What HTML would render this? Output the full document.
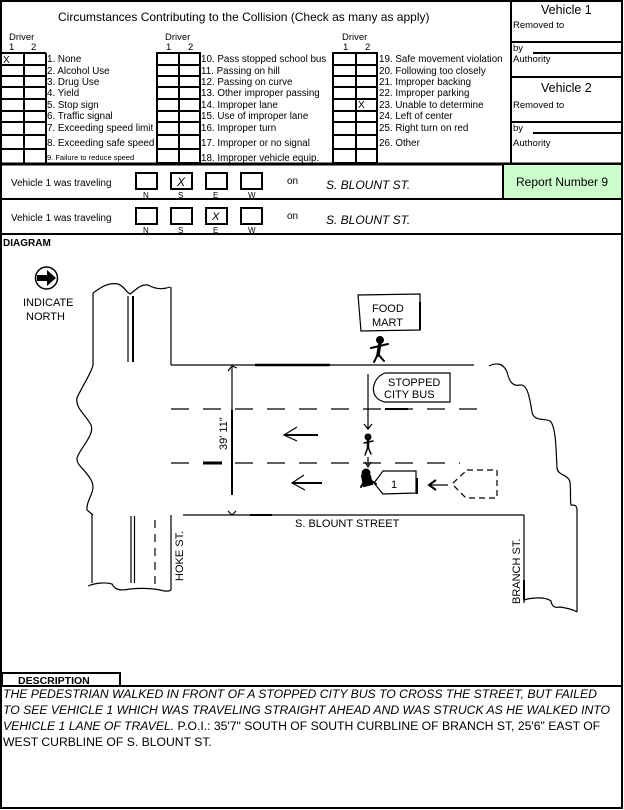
<!DOCTYPE html>
<html><head><meta charset="utf-8"><style>
html,body{margin:0;padding:0;background:#fff}
svg{display:block}
text{font-family:"Liberation Sans",sans-serif;fill:#000}
</style></head><body>
<svg width="624" height="810" viewBox="0 0 624 810" xmlns="http://www.w3.org/2000/svg">
<rect x="0" y="0" width="624" height="810" fill="#fff"/>
<rect x="1" y="1" width="621" height="807" fill="none" stroke="#000" stroke-width="2"/>

<text x="58" y="21" font-size="12">Circumstances Contributing to the Collision (Check as many as apply)</text>

<g font-size="9.5">
<text x="9" y="40">Driver</text><text x="9" y="50">1</text><text x="31" y="50">2</text>
<text x="165" y="40">Driver</text><text x="166" y="50">1</text><text x="188" y="50">2</text>
<text x="342" y="40">Driver</text><text x="343" y="50">1</text><text x="365" y="50">2</text>
</g>

<g fill="none" stroke="#000" stroke-width="2">
<line x1="1" y1="53" x2="46" y2="53"/>
<line x1="24" y1="53" x2="24" y2="163"/>
<line x1="46" y1="53" x2="46" y2="163"/>
<rect x="157" y="53" width="43" height="110"/>
<line x1="179" y1="53" x2="179" y2="163"/>
<rect x="333" y="53" width="44" height="110"/>
<line x1="356" y1="53" x2="356" y2="163"/>
</g>
<g stroke="#000" stroke-width="2">
<line x1="1" y1="65" x2="46" y2="65"/><line x1="157" y1="65" x2="200" y2="65"/><line x1="333" y1="65" x2="377" y2="65"/>
<line x1="1" y1="76" x2="46" y2="76"/><line x1="157" y1="76" x2="200" y2="76"/><line x1="333" y1="76" x2="377" y2="76"/>
<line x1="1" y1="87" x2="46" y2="87"/><line x1="157" y1="87" x2="200" y2="87"/><line x1="333" y1="87" x2="377" y2="87"/>
<line x1="1" y1="99" x2="46" y2="99"/><line x1="157" y1="99" x2="200" y2="99"/><line x1="333" y1="99" x2="377" y2="99"/>
<line x1="1" y1="111" x2="46" y2="111"/><line x1="157" y1="111" x2="200" y2="111"/><line x1="333" y1="111" x2="377" y2="111"/>
<line x1="1" y1="122" x2="46" y2="122"/><line x1="157" y1="122" x2="200" y2="122"/><line x1="333" y1="122" x2="377" y2="122"/>
<line x1="1" y1="135" x2="46" y2="135"/><line x1="157" y1="135" x2="200" y2="135"/><line x1="333" y1="135" x2="377" y2="135"/>
<line x1="1" y1="149" x2="46" y2="149"/><line x1="157" y1="149" x2="200" y2="149"/><line x1="333" y1="149" x2="377" y2="149"/>
</g>
<text x="3" y="63" font-size="10">X</text>
<text x="358" y="108" font-size="10">X</text>

<g font-size="9.8">
<text x="47" y="62">1. None</text>
<text x="47" y="74">2. Alcohol Use</text>
<text x="47" y="85">3. Drug Use</text>
<text x="47" y="96">4. Yield</text>
<text x="47" y="108">5. Stop sign</text>
<text x="47" y="119">6. Traffic signal</text>
<text x="47" y="131">7. Exceeding speed limit</text>
<text x="47" y="146">8. Exceeding safe speed</text>
<text x="47" y="160" font-size="7.5">9. Failure to reduce speed</text>
<text x="201" y="62">10. Pass stopped school bus</text>
<text x="201" y="74">11. Passing on hill</text>
<text x="201" y="85">12. Passing on curve</text>
<text x="201" y="96">13. Other improper passing</text>
<text x="201" y="108">14. Improper lane</text>
<text x="201" y="119">15. Use of improper lane</text>
<text x="201" y="131">16. Improper turn</text>
<text x="201" y="146">17. Improper or no signal</text>
<text x="201" y="161">18. Improper vehicle equip.</text>
<text x="379" y="62">19. Safe movement violation</text>
<text x="379" y="74">20. Following too closely</text>
<text x="379" y="85">21. Improper backing</text>
<text x="379" y="96">22. Improper parking</text>
<text x="379" y="108">23. Unable to determine</text>
<text x="379" y="119">24. Left of center</text>
<text x="379" y="131">25. Right turn on red</text>
<text x="379" y="146">26. Other</text>
</g>

<g stroke="#000">
<line x1="511" y1="1" x2="511" y2="163" stroke-width="2"/>
<line x1="511" y1="42" x2="622" y2="42" stroke-width="2"/>
<line x1="533" y1="53" x2="622" y2="53" stroke-width="2"/>
<line x1="511" y1="77" x2="622" y2="77" stroke-width="2"/>
<line x1="511" y1="122" x2="622" y2="122" stroke-width="2"/>
<line x1="533" y1="133" x2="622" y2="133" stroke-width="2"/>
</g>
<text x="541" y="14" font-size="12.5">Vehicle 1</text>
<text x="513" y="28" font-size="9.5">Removed to</text>
<text x="513" y="51" font-size="9.5">by</text>
<text x="513" y="62" font-size="9.5">Authority</text>
<text x="541" y="92" font-size="12.5">Vehicle 2</text>
<text x="513" y="108" font-size="9.5">Removed to</text>
<text x="513" y="131" font-size="9.5">by</text>
<text x="513" y="146" font-size="9.5">Authority</text>

<line x1="1" y1="164" x2="622" y2="164" stroke="#000" stroke-width="3"/>
<rect x="503" y="165" width="118" height="33" fill="#ccffcc"/>
<line x1="503" y1="164" x2="503" y2="199" stroke="#000" stroke-width="2"/>
<text x="516" y="186" font-size="12">Report Number 9</text>
<line x1="1" y1="199" x2="622" y2="199" stroke="#000" stroke-width="2"/>
<line x1="1" y1="234" x2="622" y2="234" stroke="#000" stroke-width="2"/>

<g font-size="9.9">
<text x="11" y="186">Vehicle 1 was traveling</text>
<text x="11" y="221">Vehicle 1 was traveling</text>
</g>
<g fill="none" stroke="#000" stroke-width="2">
<rect x="136" y="173" width="21" height="16"/><rect x="171" y="173" width="21" height="16"/><rect x="206" y="173" width="21" height="16"/><rect x="241" y="173" width="21" height="16"/>
<rect x="136" y="208" width="21" height="16"/><rect x="171" y="208" width="21" height="16"/><rect x="206" y="208" width="21" height="16"/><rect x="241" y="208" width="21" height="16"/>
</g>
<g font-size="8">
<text x="143" y="198">N</text><text x="178" y="198">S</text><text x="213" y="198">E</text><text x="248" y="198">W</text>
<text x="143" y="233">N</text><text x="178" y="233">S</text><text x="213" y="233">E</text><text x="248" y="233">W</text>
</g>
<text x="177" y="186" font-size="12" font-style="italic">X</text>
<text x="212" y="220" font-size="11" font-style="italic">X</text>
<text x="287" y="184" font-size="10">on</text>
<text x="287" y="219" font-size="10">on</text>
<text x="326" y="189" font-size="12" font-style="italic">S. BLOUNT ST.</text>
<text x="326" y="224" font-size="12" font-style="italic">S. BLOUNT ST.</text>

<text x="3" y="246" font-size="10" font-weight="bold">DIAGRAM</text>

<circle cx="46.5" cy="278" r="11" fill="#fff" stroke="#000" stroke-width="1.5"/>
<path d="M37 275 H47 V270 L56 278 L47 286 V281 H37 Z" fill="#000"/>
<text x="23" y="306" font-size="11">INDICATE</text>
<text x="26" y="320" font-size="11">NORTH</text>

<g fill="none" stroke="#000" stroke-width="1.2">
<path d="M93 365 V293 C100 288 108 282 118 284 C124 286 126 292 130 294 C136 290 140 284 148 285 C155 289 162 290 170 287"/>
<line x1="128" y1="296" x2="128" y2="362"/>
<line x1="133" y1="296" x2="133" y2="362" stroke-width="2"/>
<line x1="171" y1="287" x2="171" y2="365"/>
<line x1="171" y1="365" x2="474" y2="365"/>
<line x1="255" y1="365" x2="330" y2="365" stroke-width="2.5"/>
<path d="M93 365 C92 372 80 390 77 398 C75 408 86 415 91 425 C95 435 80 448 77 458 C76 466 87 470 92 482 C96 492 86 500 87 510 L93 515"/>
<path d="M489 366 C495 363 503 362 507 372 C509 380 512 387 520 385 C528 384 530 400 532 412 C534 422 545 418 550 421 C556 426 556 450 557 468 C558 476 568 474 570 482 C571 492 570 500 571 505 C574 505 577 505 577 510 V612"/>
<line x1="183" y1="515" x2="524" y2="515"/>
<line x1="250" y1="515" x2="272" y2="515" stroke-width="2"/>
<line x1="524" y1="515" x2="524" y2="603"/>
<line x1="524" y1="580" x2="524" y2="600" stroke-width="2"/>
<path d="M524 600 C530 598 545 596 551 601 C552 607 555 608 560 607 C566 608 572 609 577 612"/>
<line x1="92" y1="515" x2="92" y2="583"/>
<line x1="131" y1="516" x2="131" y2="583"/>
<line x1="134.5" y1="516" x2="134.5" y2="583"/>
<line x1="155" y1="520" x2="155" y2="585" stroke-dasharray="8 6"/>
<line x1="171" y1="515" x2="171" y2="590"/>
<path d="M88 586 C95 583 105 582 112 584 C115 590 120 591 130 589 C140 588 150 588 160 590 C165 591 168 592 171 590"/>
<line x1="171" y1="409" x2="489" y2="409" stroke-dasharray="18 14"/>
<line x1="171" y1="463" x2="460" y2="463" stroke-dasharray="18 14"/>
<line x1="203" y1="463" x2="222" y2="463" stroke-width="3"/>
<line x1="385" y1="409" x2="408" y2="409" stroke-width="2"/>
<line x1="232" y1="366" x2="232" y2="495"/>
<line x1="232" y1="410" x2="232" y2="495" stroke-width="2"/>
<path d="M228 371 L232 366 L237 368"/>
<path d="M228 511 L232 515 L236 511"/>
<path d="M358 295 L420 294 L420 330 L361 331 Z"/>
<line x1="420" y1="302" x2="420" y2="330" stroke-width="2"/>
<path d="M385 373 H450 V402 H385 C375 400 372 392 374 385 C376 378 380 375 385 373 Z"/>
<line x1="368" y1="374" x2="368" y2="428"/>
<path d="M364 424 L368 429 L372 424"/>
<line x1="368" y1="457" x2="368" y2="465"/>
<path d="M365 462 L368 467 L371 462"/>
<line x1="284" y1="435" x2="318" y2="435" stroke-width="2"/>
<path d="M297 427 L284 435 L297 441"/>
<line x1="292" y1="483" x2="322" y2="483" stroke-width="2"/>
<path d="M304 475 L292 483 L305 490"/>
<path d="M374 483 L383 471 L416 471 V493 L383 494 Z"/>
<line x1="417" y1="478" x2="417" y2="494" stroke-width="2"/>
<path d="M467 470 H497 V498 H466 L452 484 Z" stroke-dasharray="6 4"/>
<line x1="430" y1="485" x2="448" y2="485"/>
<path d="M436 480 L429 485 L436 490" stroke-width="2"/>
</g>
<g fill="#000" stroke="#000" stroke-width="2" stroke-linecap="round">
<circle cx="380" cy="340" r="3"/>
<line x1="380" y1="342" x2="378" y2="355" stroke-width="3.5"/>
<line x1="371" y1="348" x2="388" y2="344"/>
<line x1="378" y1="354" x2="374" y2="362"/>
<line x1="378" y1="354" x2="384" y2="361"/>
<circle cx="368" cy="437" r="2.5"/>
<line x1="368" y1="439" x2="368" y2="448" stroke-width="2.5"/>
<line x1="364" y1="443" x2="373" y2="441" stroke-width="1.5"/>
<line x1="368" y1="447" x2="365" y2="455" stroke-width="1.5"/>
<line x1="368" y1="447" x2="371" y2="454" stroke-width="1.5"/>
<circle cx="366" cy="473" r="3.5"/>
<path d="M362 476 L370 476 L372 484 L364 486 Z"/>
<line x1="361" y1="487" x2="365" y2="480" stroke-width="2"/>
<line x1="370" y1="480" x2="376" y2="484" stroke-width="2"/>
</g>
<text x="372" y="312" font-size="11">FOOD</text>
<text x="372" y="326" font-size="11">MART</text>
<text x="388" y="386" font-size="11">STOPPED</text>
<text x="384" y="398" font-size="11">CITY BUS</text>
<text x="391" y="488" font-size="11">1</text>
<text x="295" y="527" font-size="11">S. BLOUNT STREET</text>
<text transform="translate(227,450) rotate(-90)" font-size="11">39' 11"</text>
<text transform="translate(183,581) rotate(-90)" font-size="11">HOKE ST.</text>
<text transform="translate(520,604) rotate(-90)" font-size="11">BRANCH ST.</text>

<rect x="2" y="673" width="118" height="13" fill="none" stroke="#000" stroke-width="2"/>
<text x="18" y="684" font-size="10.5" font-weight="bold">DESCRIPTION</text>
<line x1="1" y1="686" x2="622" y2="686" stroke="#000" stroke-width="2"/>
<g font-size="12.2">
<text x="3" y="698" font-style="italic">THE PEDESTRIAN WALKED IN FRONT OF A STOPPED CITY BUS TO CROSS THE STREET, BUT FAILED</text>
<text x="3" y="714" font-style="italic">TO SEE VEHICLE 1 WHICH WAS TRAVELING STRAIGHT AHEAD AND WAS STRUCK AS HE WALKED INTO</text>
<text x="3" y="730"><tspan font-style="italic">VEHICLE 1 LANE OF TRAVEL.</tspan>  P.O.I.: 35'7" SOUTH OF SOUTH CURBLINE OF BRANCH ST, 25'6" EAST OF</text>
<text x="3" y="746">WEST CURBLINE OF S. BLOUNT ST.</text>
</g>
</svg>
</body></html>
